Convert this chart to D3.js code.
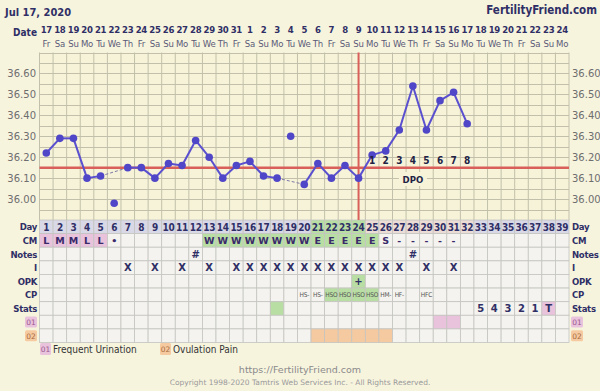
<!DOCTYPE html>
<html><head><meta charset="utf-8">
<script src="https://cdn.jsdelivr.net/npm/d3@7"></script>
<style>
body{margin:0;background:#f7f4de;}
svg{display:block;font-family:"DejaVu Sans",Verdana,sans-serif;}
.cond{font-family:"DejaVu Sans Condensed","DejaVu Sans",sans-serif;font-stretch:condensed;}
</style></head><body>
<svg id="c" width="600" height="391"></svg>
<script>
// ---------- data ----------
const days = d3.range(1, 40);
const dates = [17,18,19,20,21,22,23,24,25,26,27,28,29,30,31,1,2,3,4,5,6,7,8,9,10,11,12,13,14,15,16,17,18,19,20,21,22,23,24];
const weekdays = ["Fr","Sa","Su","Mo","Tu","We","Th","Fr","Sa","Su","Mo","Tu","We","Th","Fr","Sa","Su","Mo","Tu","We","Th","Fr","Sa","Su","Mo","Tu","We","Th","Fr","Sa","Su","Mo","Tu","We","Th","Fr","Sa","Su","Mo"];
const temps = [36.22,36.29,36.29,36.10,36.11,35.98,36.15,36.15,36.10,36.17,36.16,36.28,36.20,36.10,36.16,36.18,36.11,36.10,36.30,36.07,36.17,36.10,36.16,36.10,36.21,36.23,36.33,36.54,36.33,36.47,36.51,36.36];
const discarded = [6, 19];
const coverline = 36.15;
const ovulationDay = 24;
const dpoLabels = ["1","2","3","4","5","6","7","8"];
const tempTicks = [36.00,36.10,36.20,36.30,36.40,36.50,36.60];
const rowNames = ["Day","CM","Notes","I","OPK","CP","Stats","01","02"];
const cm = ["L","M","M","L","L","•","","","","","","","W","W","W","W","W","W","W","W","E","E","E","E","E","S","-","-","-","-","-"];
const cmPinkDays = [1,2,3,4,5];
const cmGreenDays = [13,14,15,16,17,18,19,20,21,22,23,24,25];
const notesDays = [12, 28];
const intercourseDays = [7,9,11,13,15,16,17,18,19,20,21,22,23,24,25,26,27,29,31];
const opkDays = [24];
const cp = {20:"HS-",21:"HS-",22:"HSO",23:"HSO",24:"HSO",25:"HSO",26:"HM-",27:"HF-",29:"HFC"};
const cpGreenDays = [22,23,24,25];
const statsGreenDays = [18];
const stats = {33:"5",34:"4",35:"3",36:"2",37:"1",38:"T"};
const statsPinkDays = [38];
const sym01Days = [30,31];
const sym02Days = [21,22,23,24,25,26];
const fertileDays = [21,22,23,24];
const lutealDays = [25,26,27,28,29,30,31,32];
const legend = [{code:"01",label:"Frequent Urination"},{code:"02",label:"Ovulation Pain"}];

// ---------- colours ----------
const navy = "#2f2f66", grid = "#c2c0aa", pink = "#e9c2dc", green = "#b9dea4", orange = "#f6caa0";

const svg = d3.select("#c");
const x = d3.scaleBand().domain(days).range([39.5, 569]);
const y = d3.scaleLinear().domain([35.9, 36.7]).range([220, 52.5]);
const rowY = d3.scaleBand().domain(rowNames).range([220, 342.5]);
const cx = d => x(d) + x.bandwidth()/2;

// header
svg.append("text").attr("x",5).attr("y",16).attr("fill",navy).attr("font-weight","bold").attr("font-size",11).attr("class","cond").text("Jul 17, 2020");
svg.append("text").attr("x",597).attr("y",14).attr("text-anchor","end").attr("fill",navy).attr("font-weight","bold").attr("font-size",11.5).attr("class","cond").text("FertilityFriend.com");
svg.append("text").attr("x",37).attr("y",36).attr("text-anchor","end").attr("fill",navy).attr("font-weight","bold").attr("font-size",10).attr("class","cond").text("Date");
svg.append("g").selectAll("text").data(days).join("text").attr("class","cond")
  .attr("x",cx).attr("y",33).attr("text-anchor","middle").attr("fill",navy).attr("font-weight","bold")
  .attr("font-size",9.5).attr("letter-spacing",-0.3).text((d,i)=>dates[i]);
svg.append("g").selectAll("text").data(days).join("text").attr("class","cond")
  .attr("x",cx).attr("y",47).attr("text-anchor","middle").attr("fill","#5a5a78")
  .attr("font-size",9.5).attr("letter-spacing",-0.2).text((d,i)=>weekdays[i]);

// temperature grid
const tg = svg.append("g");
tg.append("rect").attr("x",39.5).attr("y",y(36.7)).attr("width",569-39.5).attr("height",y(35.9)-y(36.7)).attr("fill","#f7f3d8");
const hLines = d3.range(0,17).map(i=>35.9+i*0.05);
tg.selectAll("line.h").data(hLines).join("line").attr("class","h")
  .attr("x1",39.5).attr("x2",569).attr("y1",d=>Math.round(y(d))+0.5).attr("y2",d=>Math.round(y(d))+0.5)
  .attr("stroke",grid).attr("stroke-width",1);
tg.selectAll("line.v").data(d3.range(0,40)).join("line").attr("class","v")
  .attr("x1",i=>i<39?x(i+1):569).attr("x2",i=>i<39?x(i+1):569)
  .attr("y1",y(36.7)).attr("y2",y(35.9)).attr("stroke",grid).attr("stroke-width",1);

// y axis labels
svg.append("g").selectAll("text").data(tempTicks).join("text")
  .attr("x",36).attr("y",d=>y(d)+4).attr("text-anchor","end").attr("fill","#6e6e6e").attr("font-size",10).text(d=>d.toFixed(2));
svg.append("g").selectAll("text").data(tempTicks).join("text")
  .attr("x",572).attr("y",d=>y(d)+4).attr("fill","#6e6e6e").attr("font-size",10).text(d=>d.toFixed(2));

// table rows
const tbl = svg.append("g");
rowNames.forEach(r=>{
  tbl.selectAll(null).data(days).join("rect")
    .attr("x",d=>x(d)).attr("y",rowY(r)).attr("width",x.bandwidth()).attr("height",rowY.bandwidth())
    .attr("fill",d=>{
      if(r==="Day") return fertileDays.includes(d)?green:(lutealDays.includes(d)?"#ecdcd6":"#d9d8e6");
      if(r==="CM") return cmPinkDays.includes(d)?pink:(cmGreenDays.includes(d)?green:"#f4f3ef");
      if(r==="OPK") return opkDays.includes(d)?green:"#f4f3ef";
      if(r==="CP") return cpGreenDays.includes(d)?green:"#f4f3ef";
      if(r==="Stats") return statsGreenDays.includes(d)?green:(statsPinkDays.includes(d)?pink:"#f4f3ef");
      if(r==="01") return sym01Days.includes(d)?pink:"#f4f3ef";
      if(r==="02") return sym02Days.includes(d)?orange:"#f4f3ef";
      return "#f4f3ef";
    })
    .attr("stroke","#c4c4c0").attr("stroke-width",0.8);
});

// row labels
rowNames.forEach(r=>{
  const yc = rowY(r)+rowY.bandwidth()/2;
  if(r==="01"||r==="02"){
    const col = r==="01"?pink:orange;
    [[25,37],[571,583]].forEach(([x0,x1])=>{
      tbl.append("rect").attr("x",x0).attr("y",yc-5.5).attr("width",x1-x0).attr("height",11).attr("rx",1.5).attr("fill",col);
      tbl.append("text").attr("x",(x0+x1)/2).attr("y",yc+3).attr("text-anchor","middle").attr("font-size",7.5).attr("fill",r==="01"?"#9a5a8e":"#a86a40").text(r);
    });
  } else {
    tbl.append("text").attr("class","cond").attr("x",37).attr("y",yc+3.5).attr("text-anchor","end").attr("fill",navy).attr("font-weight","bold").attr("font-size",9.5).attr("letter-spacing",-0.3).text(r);
    tbl.append("text").attr("class","cond").attr("x",572).attr("y",yc+3.5).attr("fill",navy).attr("font-weight","bold").attr("font-size",9.5).attr("letter-spacing",-0.3).text(r);
  }
});

function rowText(r, data, fn, opts={}){
  const yc = rowY(r)+rowY.bandwidth()/2;
  tbl.append("g").selectAll("text").data(data).join("text").attr("class",opts.cls||null)
    .attr("x",d=>cx(d)).attr("y",yc+(opts.dy||3.5)).attr("text-anchor","middle")
    .attr("fill",opts.fill||navy).attr("font-weight",opts.weight||"bold").attr("font-size",opts.size||10)
    .attr("letter-spacing",opts.ls||0).text(fn);
}
rowText("Day", days, d=>d, {ls:-0.3, size:10, dy:4, cls:"cond"});
rowText("CM", days.filter(d=>cm[d-1]), d=>cm[d-1], {fill:"#3a2a6a", size:9.5});
rowText("Notes", notesDays, ()=>"#", {size:10});
rowText("I", intercourseDays, ()=>"X", {size:10});
rowText("OPK", opkDays, ()=>"+", {size:10});
rowText("CP", Object.keys(cp).map(Number), d=>cp[d], {weight:"normal", size:6.5, fill:"#555", ls:-0.2, dy:2.5, cls:"cond"});
rowText("Stats", Object.keys(stats).map(Number), d=>stats[d], {size:10});

// coverline
svg.append("line").attr("x1",39.5).attr("x2",569).attr("y1",y(coverline)).attr("y2",y(coverline))
  .attr("stroke","#d9605a").attr("stroke-width",2.5);
// ovulation line
svg.append("line").attr("x1",cx(ovulationDay)).attr("x2",cx(ovulationDay)).attr("y1",y(36.7)).attr("y2",y(35.9))
  .attr("stroke","#d9605a").attr("stroke-width",2);

// temperature line
const pts = temps.map((t,i)=>({day:i+1,t}));
const valid = pts.filter(p=>!discarded.includes(p.day));
const line = d3.line().x(p=>cx(p.day)).y(p=>y(p.t));
valid.forEach((p,i)=>{
  if(i>0 && p.day-valid[i-1].day>1){
    svg.append("path").attr("d",line([valid[i-1],p])).attr("fill","none").attr("stroke","#7d7aa8").attr("stroke-width",1).attr("stroke-dasharray","3,2");
  }
});
valid.forEach((p,i)=>{
  if(i>0 && p.day-valid[i-1].day===1){
    svg.append("path").attr("d",line([valid[i-1],p])).attr("fill","none").attr("stroke","#5a4fcf").attr("stroke-width",2);
  }
});
svg.append("g").selectAll("circle").data(pts).join("circle")
  .attr("cx",p=>cx(p.day)).attr("cy",p=>y(p.t)).attr("r",3.8).attr("fill","#5046c8");

// DPO
svg.append("g").selectAll("text").data(dpoLabels).join("text").attr("class","cond")
  .attr("x",(d,i)=>cx(ovulationDay+1+i)).attr("y",164).attr("text-anchor","middle")
  .attr("fill","#222244").attr("font-weight","bold").attr("font-size",10).text(d=>d);
svg.append("rect").attr("x",cx(28)-14).attr("y",172).attr("width",28).attr("height",14).attr("fill","#f7f3d8");
svg.append("text").attr("class","cond").attr("x",cx(28)).attr("y",183).attr("text-anchor","middle").attr("fill","#222244").attr("font-weight","bold").attr("font-size",9.5).text("DPO");

// legend
const lg = svg.append("g");
const lx = [40, 160];
legend.forEach((l,i)=>{
  lg.append("rect").attr("x",lx[i]).attr("y",343).attr("width",11).attr("height",12).attr("rx",1.5).attr("fill",i===0?pink:orange);
  lg.append("text").attr("x",lx[i]+5.5).attr("y",352).attr("text-anchor","middle").attr("font-size",7.5).attr("fill",i===0?"#9a5a8e":"#a86a40").text(l.code);
  lg.append("text").attr("class","cond").attr("x",lx[i]+13).attr("y",353).attr("font-size",10).attr("fill","#333").text(l.label);
});

// footer
svg.append("text").attr("x",300).attr("y",373).attr("text-anchor","middle").attr("fill","#8a8a8a").attr("font-size",9.5).text("https://FertilityFriend.com");
svg.append("text").attr("x",300).attr("y",385).attr("text-anchor","middle").attr("fill","#9a9a9a").attr("font-size",7.5).text("Copyright 1998-2020 Tamtris Web Services Inc. - All Rights Reserved.");
</script></body></html>
